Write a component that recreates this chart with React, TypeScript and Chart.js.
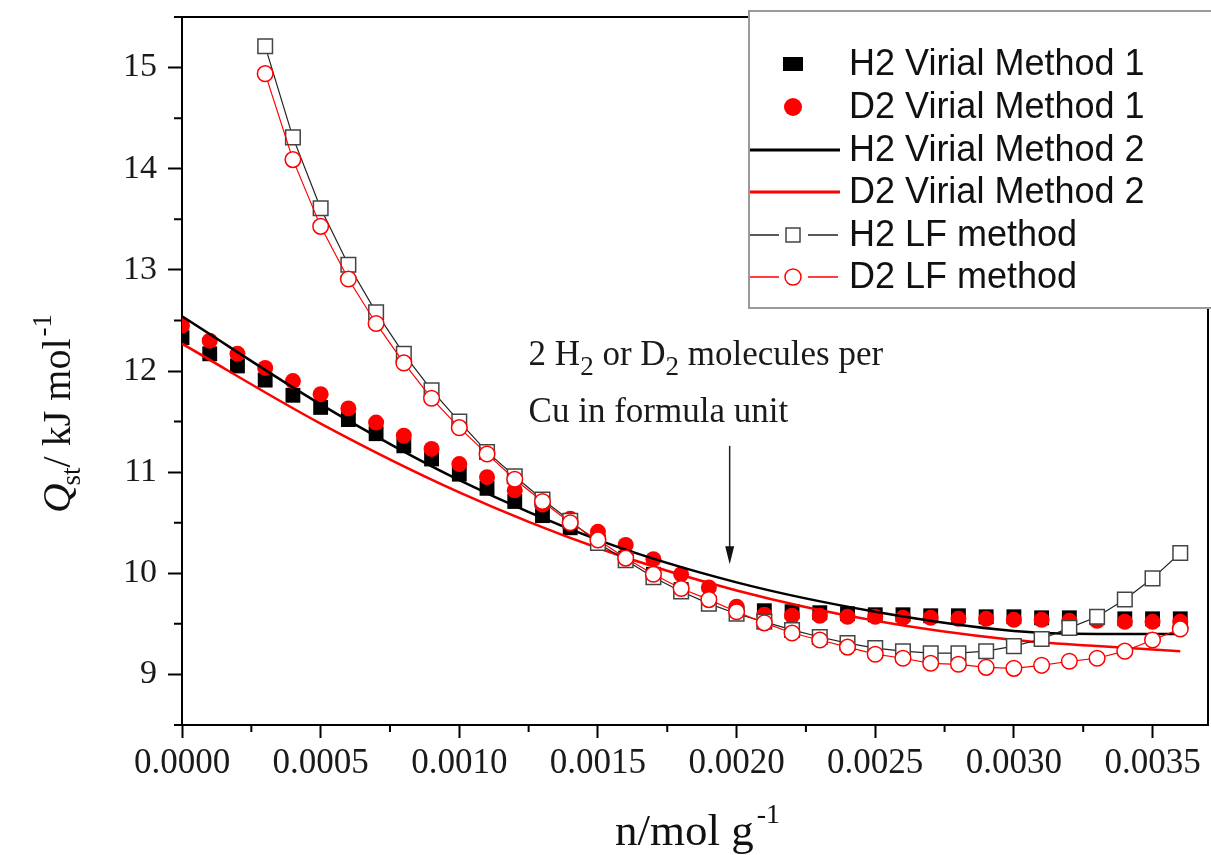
import React, { useEffect, useRef } from 'react';
import { Chart, registerables } from 'chart.js';

Chart.register(...registerables);

// ---------- data ----------
const loading = [
  0, 0.0001, 0.0002, 0.0003, 0.0004, 0.0005, 0.0006, 0.0007, 0.0008, 0.0009,
  0.0010, 0.0011, 0.0012, 0.0013, 0.0014, 0.0015, 0.0016, 0.0017, 0.0018, 0.0019,
  0.0020, 0.0021, 0.0022, 0.0023, 0.0024, 0.0025, 0.0026, 0.0027, 0.0028, 0.0029,
  0.0030, 0.0031, 0.0032, 0.0033, 0.0034, 0.0035, 0.0036,
];
const h2Virial1 = [
  12.33, 12.17, 12.05, 11.91, 11.76, 11.64, 11.52, 11.38, 11.26, 11.13,
  10.98, 10.84, 10.71, 10.57, 10.45, 10.32, 10.15, 9.99, 9.84, 9.70,
  9.62, 9.63, 9.62, 9.61, 9.60, 9.59, 9.59, 9.58, 9.58, 9.57,
  9.57, 9.56, 9.56, 9.56, 9.55, 9.55, 9.55,
];
const d2Virial1 = [
  12.45, 12.30, 12.17, 12.03, 11.90, 11.77, 11.63, 11.49, 11.36, 11.23,
  11.08, 10.95, 10.82, 10.68, 10.54, 10.41, 10.28, 10.14, 9.99, 9.86,
  9.67, 9.59, 9.58, 9.58, 9.57, 9.57, 9.56, 9.56, 9.55, 9.55,
  9.54, 9.54, 9.53, 9.53, 9.52, 9.52, 9.52,
];
const lineLoading = [0, 0.0005, 0.0010, 0.0015, 0.0020, 0.0025, 0.0030, 0.0033, 0.0036];
const h2Virial2 = [12.54, 11.67, 10.92, 10.33, 9.91, 9.62, 9.43, 9.40, 9.40];
const d2Virial2 = [12.27, 11.48, 10.80, 10.25, 9.83, 9.53, 9.34, 9.28, 9.23];
const lfLoading = [
  0.0003, 0.0004, 0.0005, 0.0006, 0.0007, 0.0008, 0.0009,
  0.0010, 0.0011, 0.0012, 0.0013, 0.0014, 0.0015, 0.0016, 0.0017, 0.0018, 0.0019,
  0.0020, 0.0021, 0.0022, 0.0023, 0.0024, 0.0025, 0.0026, 0.0027, 0.0028, 0.0029,
  0.0030, 0.0031, 0.0032, 0.0033, 0.0034, 0.0035, 0.0036,
];
const h2LF = [
  15.21, 14.31, 13.61, 13.05, 12.58, 12.17, 11.81,
  11.50, 11.20, 10.96, 10.73, 10.52, 10.30, 10.13, 9.96, 9.82, 9.70,
  9.60, 9.52, 9.44, 9.37, 9.31, 9.26, 9.23, 9.21, 9.21, 9.23,
  9.28, 9.35, 9.46, 9.57, 9.74, 9.95, 10.20,
];
const d2LF = [
  14.94, 14.09, 13.43, 12.91, 12.47, 12.08, 11.73,
  11.44, 11.18, 10.93, 10.71, 10.50, 10.33, 10.15, 9.99, 9.85, 9.74,
  9.62, 9.51, 9.41, 9.34, 9.27, 9.20, 9.16, 9.11, 9.10, 9.07,
  9.06, 9.09, 9.13, 9.16, 9.23, 9.34, 9.45,
];
const seriesNames = [
  'H2 Virial Method 1',
  'D2 Virial Method 1',
  'H2 Virial Method 2',
  'D2 Virial Method 2',
  'H2 LF method',
  'D2 LF method',
];
const xTicks = [0, 0.0005, 0.0010, 0.0015, 0.0020, 0.0025, 0.0030, 0.0035];
const xMinorTicks = [0.00025, 0.00075, 0.00125, 0.00175, 0.00225, 0.00275, 0.00325];
const yTicks = [9, 10, 11, 12, 13, 14, 15];
const yMinorTicks = [8.5, 9.5, 10.5, 11.5, 12.5, 13.5, 14.5, 15.5];
const annotationLine1 = ['2 H', '2', ' or D', '2', ' molecules per'];
const annotationLine2 = 'Cu in formula unit';
const annotationAt = { x: 0.00125, y1: 12.06, y2: 11.5 };
const arrowAt = { x: 0.001975, top: 11.26, tip: 10.09 };

// ---------- styles ----------
const SERIF = "'Liberation Serif', 'Times New Roman', serif";
const SANS = "'Liberation Sans', Arial, sans-serif";
const RED = '#ff0000';

const pts = (xs: number[], ys: number[]) => xs.map((x, i) => ({ x, y: ys[i] }));

const zeroPadding = (scale: any) => {
  scale.paddingTop = 0;
  scale.paddingBottom = 0;
  scale.paddingLeft = 0;
  scale.paddingRight = 0;
};

const decorPlugin = {
  id: 'decor',
  afterDraw(chart: any) {
    const ctx: CanvasRenderingContext2D = chart.ctx;
    const { left, right, top, bottom } = chart.chartArea;
    const xs = chart.scales.x;
    const ys = chart.scales.y;
    ctx.save();

    // frame top / right
    ctx.strokeStyle = '#000';
    ctx.lineWidth = 2;
    ctx.beginPath();
    ctx.moveTo(left, top);
    ctx.lineTo(right, top);
    ctx.lineTo(right, bottom);
    ctx.stroke();

    // minor ticks
    ctx.lineWidth = 2;
    ctx.beginPath();
    xMinorTicks.forEach((v) => {
      const px = xs.getPixelForValue(v);
      ctx.moveTo(px, bottom);
      ctx.lineTo(px, bottom + 7);
    });
    yMinorTicks.forEach((v) => {
      const py = ys.getPixelForValue(v);
      ctx.moveTo(left, py);
      ctx.lineTo(left - 8, py);
    });
    ctx.stroke();

    // annotation text
    ctx.fillStyle = '#1a1a1a';
    ctx.textBaseline = 'alphabetic';
    ctx.textAlign = 'left';
    let ax = xs.getPixelForValue(annotationAt.x);
    const ay1 = ys.getPixelForValue(annotationAt.y1);
    const ay2 = ys.getPixelForValue(annotationAt.y2);
    annotationLine1.forEach((part, i) => {
      const sub = i % 2 === 1;
      ctx.font = sub ? `27px ${SERIF}` : `35px ${SERIF}`;
      ctx.fillText(part, ax, ay1 + (sub ? 10 : 0));
      ax += ctx.measureText(part).width;
    });
    ctx.font = `35px ${SERIF}`;
    ctx.fillText(annotationLine2, xs.getPixelForValue(annotationAt.x), ay2);

    // arrow
    const arx = xs.getPixelForValue(arrowAt.x);
    const art = ys.getPixelForValue(arrowAt.top);
    const ari = ys.getPixelForValue(arrowAt.tip);
    ctx.strokeStyle = '#222';
    ctx.lineWidth = 1.5;
    ctx.beginPath();
    ctx.moveTo(arx, art);
    ctx.lineTo(arx, ari - 14);
    ctx.stroke();
    ctx.fillStyle = '#111';
    ctx.beginPath();
    ctx.moveTo(arx - 4.5, ari - 18);
    ctx.lineTo(arx + 4.5, ari - 18);
    ctx.lineTo(arx, ari);
    ctx.closePath();
    ctx.fill();

    // x title
    ctx.fillStyle = '#111';
    ctx.font = `45px ${SERIF}`;
    const xt = 'n/mol g';
    const xtw = ctx.measureText(xt).width;
    const xtx = 615;
    ctx.fillText(xt, xtx, 845);
    ctx.font = `28px ${SERIF}`;
    ctx.fillText('-1', xtx + xtw + 3, 823);

    // y title (rotated)
    ctx.save();
    ctx.translate(70, 513);
    ctx.rotate(-Math.PI / 2);
    let tx = 0;
    ctx.font = `italic 41px ${SERIF}`;
    ctx.fillText('Q', tx, 0);
    tx += ctx.measureText('Q').width - 2;
    ctx.font = `27px ${SERIF}`;
    ctx.fillText('st', tx, 10);
    tx += ctx.measureText('st').width;
    ctx.font = `40px ${SERIF}`;
    ctx.fillText('/ kJ mol', tx, 0);
    tx += ctx.measureText('/ kJ mol').width + 2;
    ctx.font = `27px ${SERIF}`;
    ctx.fillText('-1', tx, -19);
    ctx.restore();

    // legend
    const lx = 749;
    const ly = 11;
    ctx.fillStyle = '#fff';
    ctx.fillRect(lx, ly, 1211 - lx, 297);
    ctx.strokeStyle = '#9a9a9a';
    ctx.lineWidth = 2;
    ctx.strokeRect(lx, ly, 1211 - lx + 4, 297);
    const rowY = [64, 107, 150, 192, 235, 277];
    const mx = 793;
    rowY.forEach((yy, i) => {
      if (i === 0) {
        ctx.fillStyle = '#000';
        ctx.fillRect(mx - 10, yy - 7, 20, 14);
      } else if (i === 1) {
        ctx.fillStyle = RED;
        ctx.beginPath();
        ctx.arc(mx, yy, 9, 0, Math.PI * 2);
        ctx.fill();
      } else if (i === 2 || i === 3) {
        ctx.strokeStyle = i === 2 ? '#000' : RED;
        ctx.lineWidth = 3;
        ctx.beginPath();
        ctx.moveTo(750, yy);
        ctx.lineTo(840, yy);
        ctx.stroke();
      } else {
        const col = i === 4 ? '#222' : RED;
        ctx.strokeStyle = col;
        ctx.lineWidth = 1.5;
        ctx.beginPath();
        ctx.moveTo(750, yy);
        ctx.lineTo(779, yy);
        ctx.moveTo(808, yy);
        ctx.lineTo(838, yy);
        ctx.stroke();
        ctx.fillStyle = '#fff';
        ctx.strokeStyle = i === 4 ? '#444' : RED;
        ctx.lineWidth = 1.5;
        if (i === 4) {
          ctx.fillRect(mx - 7, yy - 7, 14, 14);
          ctx.strokeRect(mx - 7, yy - 7, 14, 14);
        } else {
          ctx.beginPath();
          ctx.arc(mx, yy, 8, 0, Math.PI * 2);
          ctx.fill();
          ctx.stroke();
        }
      }
      ctx.fillStyle = '#111';
      ctx.font = `36px ${SANS}`;
      ctx.textBaseline = 'middle';
      ctx.fillText(seriesNames[i], 849, yy + 1);
      ctx.textBaseline = 'alphabetic';
    });

    ctx.restore();
  },
};

export default function App() {
  const canvasRef = useRef<HTMLCanvasElement | null>(null);

  useEffect(() => {
    if (!canvasRef.current) return;
    const chart = new Chart(canvasRef.current, {
      type: 'scatter',
      data: {
        datasets: [
          {
            label: seriesNames[0],
            data: pts(loading, h2Virial1),
            pointStyle: 'rect',
            pointRadius: 10.5,
            pointBackgroundColor: '#000',
            pointBorderColor: '#000',
            pointBorderWidth: 0,
            showLine: false,
            order: 6,
          },
          {
            label: seriesNames[1],
            data: pts(loading, d2Virial1),
            pointStyle: 'circle',
            pointRadius: 8,
            pointBackgroundColor: RED,
            pointBorderColor: RED,
            pointBorderWidth: 0,
            showLine: false,
            order: 5,
          },
          {
            label: seriesNames[2],
            data: pts(lineLoading, h2Virial2),
            showLine: true,
            borderColor: '#000',
            borderWidth: 2.5,
            pointRadius: 0,
            cubicInterpolationMode: 'monotone',
            order: 4,
          },
          {
            label: seriesNames[3],
            data: pts(lineLoading, d2Virial2),
            showLine: true,
            borderColor: RED,
            borderWidth: 2.5,
            pointRadius: 0,
            cubicInterpolationMode: 'monotone',
            order: 3,
          },
          {
            label: seriesNames[4],
            data: pts(lfLoading, h2LF),
            showLine: true,
            borderColor: '#222',
            borderWidth: 1.2,
            pointStyle: 'rect',
            pointRadius: 10.3,
            pointBackgroundColor: '#fff',
            pointBorderColor: '#444',
            pointBorderWidth: 1.5,
            order: 2,
          },
          {
            label: seriesNames[5],
            data: pts(lfLoading, d2LF),
            showLine: true,
            borderColor: RED,
            borderWidth: 1.2,
            pointStyle: 'circle',
            pointRadius: 7.8,
            pointBackgroundColor: '#fff',
            pointBorderColor: RED,
            pointBorderWidth: 1.5,
            order: 1,
          },
        ],
      },
      options: {
        animation: false,
        responsive: true,
        maintainAspectRatio: false,
        events: [],
        layout: { autoPadding: false, padding: { left: 0, right: 3, top: 17, bottom: 0 } },
        plugins: {
          legend: { display: false },
          tooltip: { enabled: false },
          title: { display: false },
        },
        scales: {
          x: {
            type: 'linear',
            min: 0,
            max: 0.0037,
            afterBuildTicks: (scale: any) => {
              scale.ticks = xTicks.map((v) => ({ value: v }));
            },
            afterFit: (scale: any) => {
              scale.height = 130;
              zeroPadding(scale);
            },
            grid: {
              drawOnChartArea: false,
              drawTicks: true,
              tickLength: 13,
              tickWidth: 2,
              tickColor: '#000',
            },
            border: { display: true, color: '#000', width: 2 },
            ticks: {
              autoSkip: false,
              maxRotation: 0,
              padding: 5,
              color: '#1a1a1a',
              font: { family: SERIF, size: 35 },
              callback: (v: any) => Number(v).toFixed(4),
            },
          },
          y: {
            type: 'linear',
            min: 8.5,
            max: 15.5,
            afterBuildTicks: (scale: any) => {
              scale.ticks = yTicks.map((v) => ({ value: v }));
            },
            afterFit: (scale: any) => {
              scale.width = 182;
              zeroPadding(scale);
            },
            grid: {
              drawOnChartArea: false,
              drawTicks: true,
              tickLength: 14,
              tickWidth: 2,
              tickColor: '#000',
            },
            border: { display: true, color: '#000', width: 2 },
            ticks: {
              autoSkip: false,
              padding: 11,
              color: '#1a1a1a',
              font: { family: SERIF, size: 34 },
              callback: (v: any) => String(v),
            },
          },
        },
      },
      plugins: [decorPlugin],
    } as any);
    return () => chart.destroy();
  }, []);

  return (
    <div style={{ position: 'fixed', left: 0, top: 0, width: 1211, height: 855, background: '#fff' }}>
      <canvas ref={canvasRef} />
    </div>
  );
}
